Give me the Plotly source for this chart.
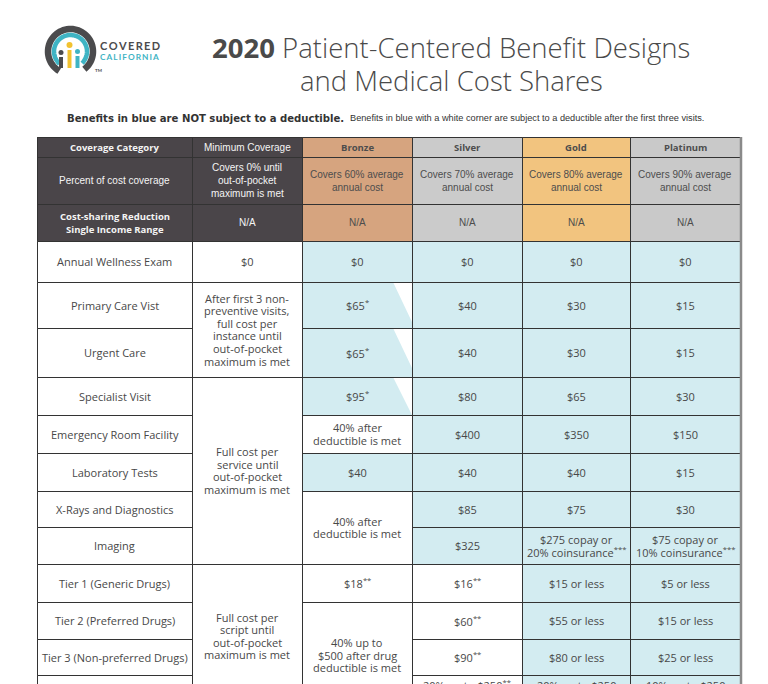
import math
import re
import plotly.graph_objects as go

# ---------------- data ----------------
title_bold = "2020"
title_line1 = " Patient-Centered Benefit Designs"
title_line2 = "and Medical Cost Shares"
note_bold = "Benefits in blue are NOT subject to a deductible."
note_rest = "Benefits in blue with a white corner are subject to a deductible after the first three visits."

first_col_header = "Coverage Category"
plan_names = ["Minimum Coverage", "Bronze", "Silver", "Gold", "Platinum"]
percent_label = "Percent of cost coverage"
percent_values = [
    "Covers 0% until\nout-of-pocket\nmaximum is met",
    "Covers 60% average\nannual cost",
    "Covers 70% average\nannual cost",
    "Covers 80% average\nannual cost",
    "Covers 90% average\nannual cost",
]
csr_label = "Cost-sharing Reduction\nSingle Income Range"
csr_values = ["N/A", "N/A", "N/A", "N/A", "N/A"]

categories = [
    "Annual Wellness Exam", "Primary Care Vist", "Urgent Care", "Specialist Visit",
    "Emergency Room Facility", "Laboratory Tests", "X-Rays and Diagnostics", "Imaging",
    "Tier 1 (Generic Drugs)", "Tier 2 (Preferred Drugs)", "Tier 3 (Non-preferred Drugs)",
    "Tier 4 (Specialty Drugs)",
]

# None = cell merged with the one above
minimum_values = [
    "$0",
    "After first 3 non-\npreventive visits,\nfull cost per\ninstance until\nout-of-pocket\nmaximum is met",
    None,
    "Full cost per\nservice until\nout-of-pocket\nmaximum is met",
    None, None, None, None,
    "Full cost per\nscript until\nout-of-pocket\nmaximum is met",
    None, None, None,
]
bronze_values = [
    "$0", "$65*", "$65*", "$95*", "40% after\ndeductible is met", "$40",
    "40% after\ndeductible is met", None, "$18**",
    "40% up to\n$500 after drug\ndeductible is met", None, None,
]
silver_values = [
    "$0", "$40", "$40", "$80", "$400", "$40", "$85", "$325", "$16**", "$60**", "$90**",
    "20% up to $250**\nper script",
]
gold_values = [
    "$0", "$30", "$30", "$65", "$350", "$40", "$75", "$275 copay or\n20% coinsurance***",
    "$15 or less", "$55 or less", "$80 or less", "20% up to $250\nper script",
]
platinum_values = [
    "$0", "$15", "$15", "$30", "$150", "$15", "$30", "$75 copay or\n10% coinsurance***",
    "$5 or less", "$15 or less", "$25 or less", "10% up to $250\nper script",
]

# 1 = not subject to deductible (blue)
minimum_no_deductible = [0, 0, 0, 0, 0, 0, 0, 0, 0, 0, 0, 0]
bronze_no_deductible = [1, 1, 1, 1, 0, 1, 0, 0, 0, 0, 0, 0]
silver_no_deductible = [1, 1, 1, 1, 1, 1, 1, 1, 0, 0, 0, 0]
gold_no_deductible = [1, 1, 1, 1, 1, 1, 1, 1, 1, 1, 1, 1]
platinum_no_deductible = [1, 1, 1, 1, 1, 1, 1, 1, 1, 1, 1, 1]
# 1 = blue with white corner (deductible after first three visits)
bronze_white_corner = [0, 1, 1, 1, 0, 0, 0, 0, 0, 0, 0, 0]

plan_values = [minimum_values, bronze_values, silver_values, gold_values, platinum_values]
plan_blue = [minimum_no_deductible, bronze_no_deductible, silver_no_deductible,
             gold_no_deductible, platinum_no_deductible]
plan_corner = [None, bronze_white_corner, None, None, None]

# ---------------- layout / style ----------------
W, H = 768, 684
OFF = 8  # page body margin compensation
col_edges = [37, 192, 302, 412, 522, 630, 740]
header_edges = [137, 157, 204, 241]
body_edges = [241, 282, 328, 377, 415, 453, 491, 527, 564, 602, 639, 675, 708]

DARK = "#4a4549"
header_fills = [DARK, DARK, "#d6a47f", "#cbcbcb", "#f2c47f", "#c9c9c9"]
header_text_colors = ["#f4f4f4", "#f4f4f4", "#4d4d4d", "#4d4d4d", "#4d4d4d", "#4d4d4d"]
BLUE = "#d3ecf1"
LINE = "#333333"
BODY_COLOR = "#484848"
OPEN = "Open Sans"
ARIAL = "Liberation Sans, Arial"

shapes_fill, shapes_mid, shapes_line = [], [], []
annotations = []


def fmt(s):
    return re.sub(r"(\*+)", r"<sup>\1</sup>", s)


def add_text(x, y, text, size, color, family, bold=False, lh=None, anchor="center", weight=None):
    lines = text.split("\n")
    lh = lh if lh is not None else size * 1.15
    n = len(lines)
    for i, ln in enumerate(lines):
        yy = y + (i - (n - 1) / 2) * lh
        t = fmt(ln)
        if bold:
            t = "<b>" + t + "</b>"
        font = dict(size=size, color=color, family=family)
        if weight is not None:
            font["weight"] = weight
        annotations.append(dict(
            x=x, y=yy, xref="x", yref="y", text=t, showarrow=False,
            font=font, xanchor=anchor, yanchor="middle",
        ))


def cell(x0, x1, y0, y1, fill):
    shapes_fill.append(dict(type="rect", xref="x", yref="y", x0=x0, x1=x1, y0=y0, y1=y1,
                            fillcolor=fill, line=dict(width=0), layer="below"))
    shapes_line.append(dict(type="rect", xref="x", yref="y", x0=x0 + 0.5, x1=x1 + 0.5,
                            y0=y0 + 0.5, y1=y1 + 0.5, fillcolor="rgba(0,0,0,0)",
                            line=dict(color=LINE, width=1), layer="below"))


# ---- header rows ----
header_row_texts = [
    [first_col_header] + plan_names,
    [percent_label] + percent_values,
    [csr_label] + csr_values,
]
for r, texts in enumerate(header_row_texts):
    y0, y1 = header_edges[r], header_edges[r + 1]
    for c, txt in enumerate(texts):
        x0, x1 = col_edges[c], col_edges[c + 1]
        cell(x0, x1, y0, y1, header_fills[c])
        if r == 0:
            bold = c != 1
            fam = OPEN if bold else ARIAL
            size = 9.5 if bold else 10
        elif r == 1:
            bold, fam, size = False, ARIAL, 10
        else:
            bold = c == 0
            fam = OPEN if bold else ARIAL
            size = 9.5 if bold else 10
        add_text((x0 + x1) / 2, (y0 + y1) / 2, txt, size, header_text_colors[c], fam,
                 bold=bold, lh=13)

# ---- category column ----
for i, cat in enumerate(categories):
    y0, y1 = body_edges[i], body_edges[i + 1]
    cell(col_edges[0], col_edges[1], y0, y1, "white")
    add_text((col_edges[0] + col_edges[1]) / 2, (y0 + y1) / 2, cat, 11, BODY_COLOR, OPEN)

# ---- plan columns ----
for p, vals in enumerate(plan_values):
    x0, x1 = col_edges[p + 1], col_edges[p + 2]
    i = 0
    while i < len(vals):
        j = i + 1
        while j < len(vals) and vals[j] is None:
            j += 1
        y0, y1 = body_edges[i], body_edges[j]
        fill = BLUE if plan_blue[p][i] else "white"
        cell(x0, x1, y0, y1, fill)
        corner = plan_corner[p]
        if corner is not None and corner[i]:
            h = min(40, y1 - y0)
            shapes_mid.append(dict(type="path", xref="x", yref="y",
                                   path=f"M {x1 - 19} {y0} L {x1} {y0} L {x1} {y0 + h} Z",
                                   fillcolor="white", line=dict(width=0), layer="below"))
        add_text((x0 + x1) / 2, (y0 + y1) / 2, vals[i], 11, BODY_COLOR, OPEN, lh=12.6)
        i = j

# right border (grey, thicker)
shapes_line.append(dict(type="line", xref="x", yref="y", x0=col_edges[-1] + 1, x1=col_edges[-1] + 1,
                        y0=header_edges[0], y1=H + OFF, line=dict(color="#8a8a8a", width=2.5),
                        layer="below"))

# ---- title & note ----
TITLE_FONT = "Open Sans Light, Open Sans"
annotations.append(dict(
    x=451, y=47, xref="x", yref="y", showarrow=False, xanchor="center", yanchor="middle",
    text=f"<span style='font-family:Open Sans;font-weight:bold'>{title_bold}</span>{title_line1}",
    font=dict(size=27.5, color="#4a4a4a", family=TITLE_FONT, weight=300),
))
annotations.append(dict(
    x=451, y=80, xref="x", yref="y", showarrow=False, xanchor="center", yanchor="middle",
    text=title_line2, font=dict(size=27.5, color="#4a4a4a", family=TITLE_FONT, weight=300),
))
annotations.append(dict(
    x=346, y=118, xref="x", yref="y", showarrow=False, xanchor="right", yanchor="middle",
    text=f"<b>{note_bold}</b>", font=dict(size=10.1, color="#333333", family="DejaVu Sans"),
))
annotations.append(dict(
    x=348, y=118, xref="x", yref="y", showarrow=False, xanchor="left", yanchor="middle",
    text=note_rest, font=dict(size=9.2, color="#333333", family=ARIAL),
))

# ---- logo ----
def arc_path(cx, cy, r, a0, a1, n=60):
    pts = []
    for k in range(n + 1):
        a = math.radians(a0 + (a1 - a0) * k / n)
        pts.append((cx + r * math.cos(a), cy - r * math.sin(a)))
    return "M " + " L ".join(f"{x:.2f} {y:.2f}" for x, y in pts)


logo_shapes = [
    dict(type="path", xref="x", yref="y", path=arc_path(70.5, 51.5, 22.5, 240, -52),
         line=dict(color="#4b4b4d", width=6.5)),
    dict(type="path", xref="x", yref="y", path=arc_path(70.5, 51.5, 16.5, 228, -45),
         line=dict(color="#3fb4c4", width=4.5)),
    dict(type="circle", xref="x", yref="y", x0=58.5, x1=63.5, y0=50, y1=55,
         fillcolor="#4b4b4d", line=dict(width=0)),
    dict(type="rect", xref="x", yref="y", x0=59, x1=63, y0=57, y1=68,
         fillcolor="#4b4b4d", line=dict(width=0)),
    dict(type="circle", xref="x", yref="y", x0=66.5, x1=72.5, y0=42, y1=48,
         fillcolor="#f2c230", line=dict(width=0)),
    dict(type="rect", xref="x", yref="y", x0=67.5, x1=71.5, y0=50, y1=68,
         fillcolor="#f2c230", line=dict(width=0)),
    dict(type="circle", xref="x", yref="y", x0=75, x1=80, y0=49, y1=54,
         fillcolor="#3fb4c4", line=dict(width=0)),
    dict(type="rect", xref="x", yref="y", x0=75.5, x1=79.5, y0=56, y1=68,
         fillcolor="#3fb4c4", line=dict(width=0)),
]
annotations.append(dict(x=98, y=45, xref="x", yref="y", showarrow=False, xanchor="left",
                        yanchor="middle", text="<b>" + "\u2009".join("COVERED") + "</b>",
                        font=dict(size=11, color="#4b4b4d", family="Lato")))
annotations.append(dict(x=98, y=57, xref="x", yref="y", showarrow=False, xanchor="left",
                        yanchor="middle", text="<b>" + "\u2009".join("CALIFORNIA") + "</b>",
                        font=dict(size=8.3, color="#3fb4c4", family="Lato")))
annotations.append(dict(x=93, y=70, xref="x", yref="y", showarrow=False, xanchor="left",
                        yanchor="middle", text="<b>TM</b>",
                        font=dict(size=4.5, color="#4b4b4d", family="Lato")))

fig = go.Figure()
fig.add_trace(go.Scatter(x=[OFF, W + OFF], y=[OFF, H + OFF], mode="markers",
                         marker=dict(opacity=0), hoverinfo="skip", showlegend=False))
fig.update_layout(
    width=W, height=H, margin=dict(l=0, r=0, t=0, b=0),
    paper_bgcolor="white", plot_bgcolor="white", showlegend=False,
    xaxis=dict(range=[OFF, W + OFF], visible=False, fixedrange=True),
    yaxis=dict(range=[H + OFF, OFF], visible=False, fixedrange=True),
    shapes=shapes_fill + shapes_mid + shapes_line + logo_shapes,
    annotations=annotations,
)
fig.write_html("out.html")
